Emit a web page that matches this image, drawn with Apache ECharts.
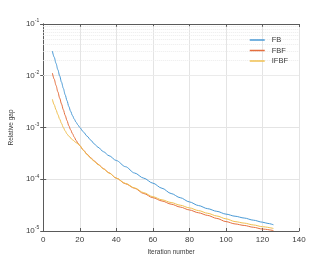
<!DOCTYPE html>
<html><head><meta charset="utf-8">
<script src="https://cdn.jsdelivr.net/npm/echarts@6/dist/echarts.min.js"></script>
<style>html,body{margin:0;padding:0;background:#fff}#c{width:317px;height:261px}</style>
</head><body><div id="c"></div>
<script>
var seriesNames = ['FB', 'FBF', 'IFBF'];
var xTicks = [0, 20, 40, 60, 80, 100, 120, 140];
var yTicks = [1e-5, 1e-4, 1e-3, 1e-2, 1e-1];

var fbIter = [5,6,7,8,9,10,11,12,13,14,15,16,17,18,19,20,22,24,26,28,30,33,36,40,45,50,55,60,65,70,75,80,85,90,95,100,105,110,115,120,123,126];
var fbGap  = [3.0e-2,2.28e-2,1.73e-2,1.31e-2,9.9e-3,7.5e-3,5.7e-3,4.3e-3,3.3e-3,2.55e-3,2.05e-3,1.7e-3,1.45e-3,1.26e-3,1.12e-3,1.0e-3,8.2e-4,6.8e-4,5.7e-4,4.8e-4,4.15e-4,3.4e-4,2.85e-4,2.3e-4,1.75e-4,1.32e-4,1.05e-4,8.4e-5,6.7e-5,5.3e-5,4.4e-5,3.65e-5,3.1e-5,2.7e-5,2.4e-5,2.12e-5,1.93e-5,1.78e-5,1.62e-5,1.48e-5,1.4e-5,1.32e-5];

var fbfIter = [5,6,7,8,9,10,11,12,13,14,15,16,17,18,19,20,22,24,26,28,30,33,36,40,45,50,55,60,65,70,75,80,85,90,95,100,105,110,115,120,126];
var fbfGap  = [1.13e-2,8.6e-3,6.5e-3,4.9e-3,3.7e-3,2.85e-3,2.2e-3,1.72e-3,1.36e-3,1.08e-3,9.0e-4,7.6e-4,6.5e-4,5.6e-4,5.0e-4,4.45e-4,3.65e-4,3.05e-4,2.6e-4,2.25e-4,1.95e-4,1.6e-4,1.33e-4,1.05e-4,8.2e-5,6.7e-5,5.3e-5,4.4e-5,3.8e-5,3.3e-5,2.9e-5,2.55e-5,2.25e-5,2.0e-5,1.75e-5,1.52e-5,1.37e-5,1.28e-5,1.18e-5,1.09e-5,1.02e-5];

var ifbfIter = [5,6,7,8,9,10,11,12,13,14,16,18,20,22,24,26,28,30,33,36,40,45,50,55,60,65,70,75,80,85,90,95,100,105,110,115,120,126];
var ifbfGap  = [3.5e-3,2.75e-3,2.2e-3,1.78e-3,1.45e-3,1.2e-3,1.0e-3,8.6e-4,7.5e-4,6.8e-4,5.8e-4,5.1e-4,4.5e-4,3.6e-4,3.0e-4,2.55e-4,2.2e-4,1.92e-4,1.58e-4,1.32e-4,1.05e-4,8.3e-5,6.8e-5,5.5e-5,4.6e-5,4.0e-5,3.55e-5,3.15e-5,2.8e-5,2.48e-5,2.2e-5,1.95e-5,1.72e-5,1.52e-5,1.42e-5,1.31e-5,1.21e-5,1.12e-5];

var colors = ['#4a9ad6', '#e46f3f', '#f0c050'];

function pairs(xs, ys) { return xs.map(function (x, i) { return [x, ys[i]]; }); }

// minor log grid values (2..9 per decade)
var minorVals = [];
for (var d = -5; d < -1; d++) for (var m = 2; m <= 9; m++) minorVals.push(m * Math.pow(10, d));

var font = 'Liberation Sans, Arial, sans-serif';
var axisCol = '#5a5a5a';
var txtCol = '#3a3a3a';
var lineIcon = 'path://M0,0L10,0L10,1L0,1Z';

var chart = echarts.init(document.getElementById('c'), null, {renderer: 'canvas'});
chart.setOption({
  animation: false,
  backgroundColor: '#fff',
  color: colors,
  grid: {left: 37, right: 18, top: 24, bottom: 30, containLabel: false},
  legend: {
    data: seriesNames.map(function (n, i) { return {name: n, icon: lineIcon, itemStyle: {color: colors[i]}}; }),
    orient: 'vertical', right: 24, top: 31,
    itemWidth: 23, itemHeight: 1.5, itemGap: 2.5,
    textStyle: {fontSize: 7.5, color: txtCol, fontFamily: font, padding: [0, 0, 0, -2]}
  },
  xAxis: [{
    type: 'value', min: 0, max: 140, interval: 20,
    name: 'Iteration number', nameLocation: 'middle', nameGap: 18,
    nameTextStyle: {fontSize: 6.5, color: txtCol, fontFamily: font},
    axisLine: {lineStyle: {color: axisCol, width: 1}},
    axisTick: {inside: true, length: 3, lineStyle: {color: axisCol}},
    axisLabel: {fontSize: 8, color: txtCol, fontFamily: font, margin: 5},
    splitLine: {show: true, lineStyle: {color: '#e4e4e4', width: 1}}
  }, {
    type: 'value', min: 0, max: 140, interval: 20, position: 'top',
    axisLine: {show: true, lineStyle: {color: axisCol, width: 1}},
    axisTick: {inside: true, length: 3, lineStyle: {color: axisCol}},
    axisLabel: {show: false}, splitLine: {show: false}
  }],
  yAxis: [{
    type: 'log', logBase: 10, min: 1e-5, max: 1e-1,
    name: 'Relative gap', nameLocation: 'middle', nameGap: 24,
    nameTextStyle: {fontSize: 6.5, color: txtCol, fontFamily: font},
    axisLine: {show: true, lineStyle: {color: axisCol, width: 1}},
    axisTick: {inside: true, length: 3, lineStyle: {color: axisCol}},
    axisLabel: {
      margin: 4, fontFamily: font,
      formatter: function (v) {
        var e = Math.round(Math.log10(v));
        return '{b|10}{s|' + e + '}';
      },
      rich: {
        b: {fontSize: 8, color: txtCol, fontFamily: font},
        s: {fontSize: 5, color: txtCol, fontFamily: font, padding: [0, 0, 6, 0]}
      }
    },
    splitLine: {show: true, lineStyle: {color: '#e4e4e4', width: 1}}
  }, {
    type: 'log', logBase: 10, min: 1e-5, max: 1e-1, position: 'right',
    axisLine: {show: true, lineStyle: {color: axisCol, width: 1}},
    axisTick: {inside: true, length: 3, lineStyle: {color: axisCol}},
    axisLabel: {show: false}, splitLine: {show: false}
  }],
  series: [
    {name: 'FB', type: 'line', data: pairs(fbIter, fbGap), showSymbol: false, symbol: 'none',
     smooth: 0.3, smoothMonotone: 'x',
     lineStyle: {width: 1, color: colors[0]}, z: 5,
     markLine: {silent: true, symbol: 'none', label: {show: false}, animation: false,
       lineStyle: {color: '#ececec', type: [1, 1], width: 1},
       data: minorVals.map(function (v) { return {yAxis: v}; }), z: 1}},
    {name: 'FBF', type: 'line', data: pairs(fbfIter, fbfGap), showSymbol: false, symbol: 'none',
     smooth: 0.3, smoothMonotone: 'x',
     lineStyle: {width: 1, color: colors[1]}, z: 6},
    {name: 'IFBF', type: 'line', data: pairs(ifbfIter, ifbfGap), showSymbol: false, symbol: 'none',
     smooth: 0.3, smoothMonotone: 'x',
     lineStyle: {width: 1, color: colors[2]}, z: 7}
  ]
});
</script></body></html>
